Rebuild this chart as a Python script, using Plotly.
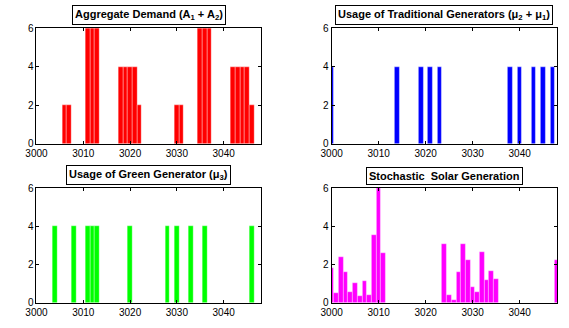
import plotly.graph_objects as go

years = list(range(3000, 3049))

demand = [0,0,0,0,0,0,2,2,0,0, 0,6,6,6,0,0,0,0,4,4, 4,4,2,0,0,0,0,0,0,0,
          2,2,0,0,0,6,6,6,0,0, 0,0,4,4,4,4,2,0,0]
traditional = [4,0,0,0,0,0,0,0,0,0, 0,0,0,0,4,0,0,0,0,4, 0,4,0,4,0,0,0,0,0,0,
               0,0,0,0,0,0,0,0,4,0, 4,0,0,4,0,4,0,4,0]
green = [0,0,0,0,4,0,0,0,4,0, 0,4,4,4,0,0,0,0,0,0, 4,0,0,0,0,0,0,0,4,0,
         4,0,0,4,0,0,4,0,0,0, 0,0,0,0,0,0,4,0,0]
solar = [1.83,0.50,2.39,1.61,0.57,1.04,0.35,1.11,0.42,3.56, 6.0,2.62,0,0,0,0,0,0,0,0,
         0,0,0,0,3.08,0.39,0.13,1.63,3.08,2.24, 0.84,0.55,2.66,1.19,1.65,1.26,0,0,0,0,
         0,0,0,0,0,0,0,0,2.24]

titles = ["Aggregate Demand (A<sub>1</sub> + A<sub>2</sub>)",
          "Usage of Traditional Generators (\u03bc<sub>2</sub> + \u03bc<sub>1</sub>)",
          "Usage of Green Generator (\u03bc<sub>3</sub>)",
          "Stochastic  Solar Generation"]
x_ticks = [3000, 3010, 3020, 3030, 3040]
y_ticks = [0, 2, 4, 6]

series = [demand, traditional, green, solar]
colors = ["#FF0000", "#0000FF", "#00FF00", "#FF00FF"]

W, H = 569, 328
xdoms = [[26 / W, 255 / W], [327 / W, 557 / W]]
ydoms = [[1 - 143 / H, 1 - 23 / H], [1 - 308 / H, 1 - 189 / H]]

fig = go.Figure()
fam = "Liberation Sans, Arial, Helvetica, sans-serif"
font = dict(family=fam, size=10, color="black")

for i in range(4):
    r, c = divmod(i, 2)
    sfx = "" if i == 0 else str(i + 1)
    fig.add_trace(go.Bar(
        x=years, y=series[i], width=1,
        marker=dict(color=colors[i], line=dict(color="rgba(255,255,255,0.55)", width=0.6)),
        xaxis="x" + sfx, yaxis="y" + sfx, showlegend=False, cliponaxis=True,
        hoverinfo="skip"))
    axis_common = dict(showgrid=False, zeroline=False, showline=True, linecolor="black",
                       linewidth=1, mirror="ticks", ticks="inside", ticklen=3,
                       tickcolor="black", tickfont=font)
    fig.layout["xaxis" + sfx] = dict(axis_common, domain=xdoms[c], range=[3000, 3048],
                                     tickvals=x_ticks, anchor="y" + sfx)
    fig.layout["yaxis" + sfx] = dict(axis_common, domain=ydoms[r], range=[0, 6],
                                     tickvals=y_ticks, anchor="x" + sfx)
    fig.add_annotation(text="<b>" + titles[i] + "</b>", xref="x" + sfx + " domain",
                       yref="y" + sfx + " domain", x=0.5, y=1, xanchor="center",
                       yanchor="bottom", yshift=3, showarrow=False,
                       bordercolor="black", borderwidth=1, borderpad=2, bgcolor="white",
                       font=dict(family=fam, size=11, color="black"))

fig.update_layout(width=W, height=H, autosize=False, margin=dict(l=0, r=0, t=0, b=0),
                  paper_bgcolor="white", plot_bgcolor="white", bargap=0)
fig.write_html("out.html", config={"displayModeBar": False},
               post_script="document.body.style.margin='0px';document.body.style.overflow='hidden';")
